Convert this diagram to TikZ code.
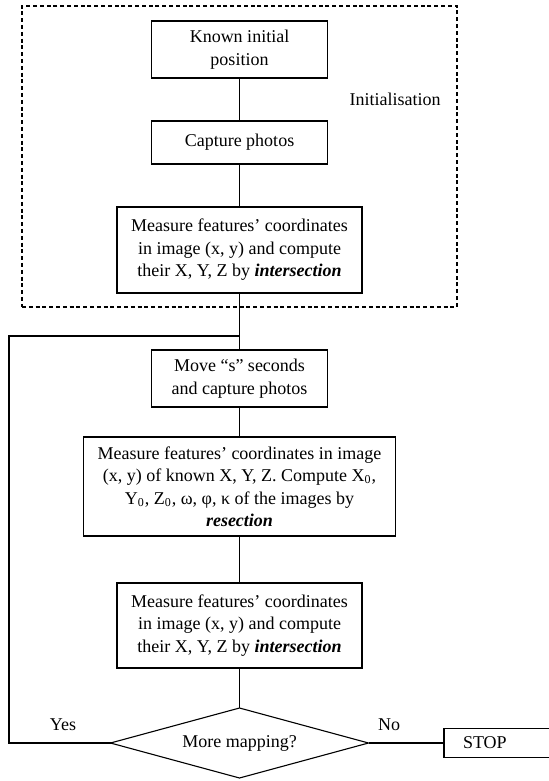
\documentclass[tikz,border=0pt]{standalone}
\usepackage{fontspec}
\setmainfont{Liberation Serif}
\usetikzlibrary{positioning,shapes.geometric}
\newcommand{\flowfont}{\fontsize{9}{11.25}\selectfont}
\newcommand{\kw}[1]{\textbf{\textit{#1}}}
\tikzset{
  procbox/.style={rectangle, draw, line width=0.55pt, align=center, font=\flowfont, inner sep=2pt, outer sep=0pt},
  decision/.style={diamond, draw, line width=0.55pt, align=center, font=\flowfont, inner sep=0pt, outer sep=0pt,
                   aspect=3.7, minimum width=129pt, minimum height=35pt},
  initframe/.style={draw, dash pattern=on 2pt off 1.4pt, line width=0.9pt,
                    minimum width=217.5pt, minimum height=150.5pt},
  flow/.style={line width=0.55pt},
  lab/.style={font=\flowfont},
}

\begin{document}
\begin{tikzpicture}[x=0.5pt, y=-0.5pt]
  \clip (0,0) rectangle (549,781);
  \node[initframe] (init) at (239.5,156.5) {};
  \node[lab] (initlab) at (395,99) {Initialisation};

  \node[procbox, minimum width=88pt, minimum height=28.5pt] (known) at (239.5,49.5) {Known initial\\position};
  \node[procbox, minimum width=88pt, minimum height=21.5pt] (capture) [below=21.5pt of known] {Capture photos};
  \node[procbox, minimum width=122.5pt, minimum height=43pt] (interA) [below=21.5pt of capture]
    {Measure features’ coordinates\\in image (x, y) and compute\\their X, Y, Z by \kw{intersection}};
  \node[procbox, minimum width=88pt, minimum height=28.5pt] (move) [below=28.5pt of interA] {Move “s” seconds\\and capture photos};
  \node[procbox, minimum width=156pt, minimum height=49.5pt] (resect) [below=15pt of move]
    {Measure features’ coordinates in image\\(x, y) of known X, Y, Z. Compute X\textsubscript{0},\\Y\textsubscript{0}, Z\textsubscript{0}, ω, φ, κ of the images by\\\kw{resection}};
  \node[procbox, minimum width=122.5pt, minimum height=42.5pt] (interB) [below=23.5pt of resect]
    {Measure features’ coordinates\\in image (x, y) and compute\\their X, Y, Z by \kw{intersection}};
  \node[decision] (more) [below=20pt of interB] {More mapping?};
  \node[procbox, anchor=west, text width=60pt, align=left, inner xsep=9.5pt, minimum height=14.5pt] (stop) at (more.east -| 444,0) {STOP};

  \node[lab] (yes) at (63,725) {Yes};
  \node[lab] (no) at (389,725) {No};

  \coordinate (loopjoin) at (239.5,336);
  \coordinate (loopcorner) at (9,336);

  \draw[flow] (known) -- (capture);
  \draw[flow] (capture) -- (interA);
  \draw[flow] (interA) -- (move);
  \draw[flow] (move) -- (resect);
  \draw[flow] (resect) -- (interB);
  \draw[flow] (interB) -- (more);
  \draw[flow] (more.east) -- (stop.west);
  \draw[flow] (more.west) -- (more.west -| loopcorner) -- (loopcorner) -- (loopjoin);
\end{tikzpicture}
\end{document}
